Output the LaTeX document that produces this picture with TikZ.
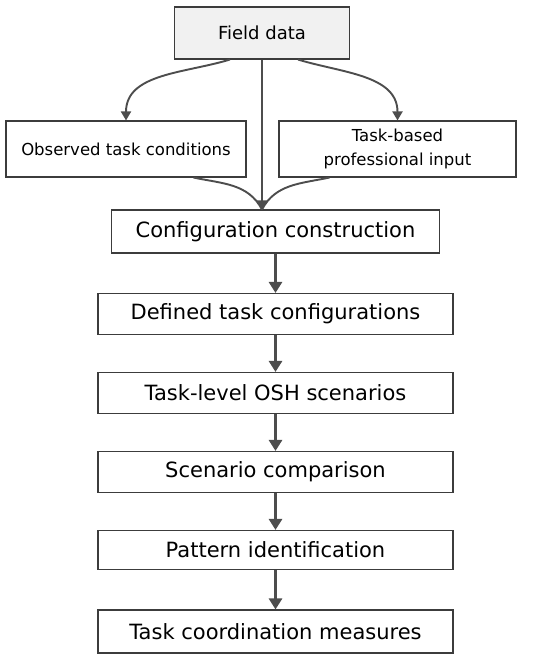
\documentclass[tikz,border=0pt]{standalone}
\usepackage{fontspec}
\setmainfont{DejaVu Sans}
\usetikzlibrary{arrows.meta}

\definecolor{boxline}{HTML}{3C3C3C}
\definecolor{arrowgray}{HTML}{4D4D4D}
\definecolor{topfill}{HTML}{F1F1F1}

\begin{document}
\begin{tikzpicture}[x=1pt,y=-1pt,
    stagebox/.style={draw=boxline,line width=1.1pt,fill=white,
      minimum height=41pt,minimum width=355pt,inner sep=0pt,
      font=\fontsize{21}{25}\selectfont},
    inputbox/.style={draw=boxline,line width=1.1pt,fill=white,
      minimum height=56pt,inner sep=0pt,align=center,
      font=\fontsize{16.5}{23.5}\selectfont},
    flowarrow/.style={draw=arrowgray,line width=2.8pt,
      -{Triangle[length=11pt,width=13pt]}},
    feedline/.style={draw=arrowgray,line width=1.9pt},
    feedarrow/.style={feedline,-{Triangle[length=9pt,width=10pt]}}]
          \useasboundingbox (0,0) rectangle (550,662);
          % sources
          \node[inputbox,fill=topfill,minimum width=175pt,minimum height=52pt,
            font=\fontsize{18}{22}\selectfont] (fielddata) at (262,33) {Field data};
          \node[inputbox,minimum width=240pt] (observed) at (126,149) {Observed task conditions};
          \node[inputbox,minimum width=237pt] (profinput) at (397.5,149) {Task-based\\professional input};
          % stages
          \node[stagebox,minimum width=328pt,minimum height=43pt] (confcon) at (275.5,231.5) {Configuration construction};
          \node[stagebox] (definedtc) at (275.5,314) {Defined task configurations};
          \node[stagebox] (scenarios) at (275.5,393) {Task-level OSH scenarios};
          \node[stagebox] (comparison) at (275.5,472) {Scenario comparison};
          \node[stagebox,minimum height=39pt] (patterns) at (275.5,550) {Pattern identification};
          \node[stagebox,minimum height=43pt] (measures) at (275.5,631.5) {Task coordination measures};
          \coordinate (merge) at (fielddata.south |- confcon.north);
          % branching
          \draw[feedarrow] ([xshift=56pt]fielddata.south west) to[out=197,in=90] (observed.north);
          \draw[feedarrow] ([xshift=-52pt]fielddata.south east) to[out=-17,in=90] (profinput.north);
          \draw[feedline] ([xshift=-53pt]observed.south east) to[out=-12,in=118] (merge);
          \draw[feedline] ([xshift=51pt]profinput.south west) to[out=192,in=62] (merge);
          \draw[feedarrow] (fielddata.south) -- (merge);
          % chain
          \foreach \a/\b in {confcon/definedtc,definedtc/scenarios,scenarios/comparison,comparison/patterns,patterns/measures}
            \draw[flowarrow] (\a.south) -- (\b.north);
        \end{tikzpicture}
\end{document}
